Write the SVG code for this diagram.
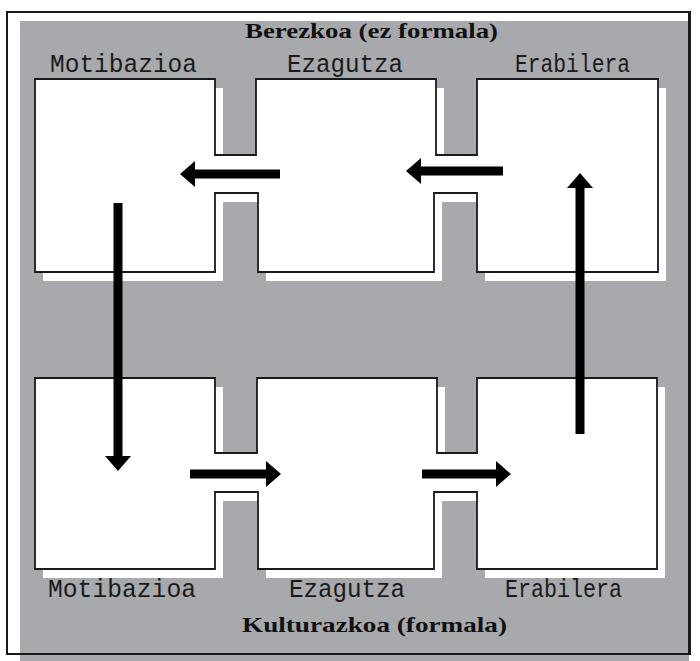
<svg xmlns="http://www.w3.org/2000/svg" width="700" height="661" viewBox="0 0 700 661">
  <style>
    .bg { fill: #a8a9ac; }
    .frame { fill: #ffffff; stroke: #1a1a1a; stroke-width: 2; }
    .shadow { fill: #ffffff; stroke: none; }
    .shape { fill: #ffffff; stroke: #1a1a1a; stroke-width: 1.8; stroke-linejoin: miter; }
    .lbl { font-family: "Liberation Mono", "DejaVu Sans Mono", monospace; font-size: 26px; fill: #1a1a1a; }
    .title { font-family: "Liberation Serif", "DejaVu Serif", serif; font-size: 22px; font-weight: bold; fill: #111111; }
    .arrow { stroke: #000000; stroke-width: 9; fill: none; stroke-linecap: butt; }
  </style>
  <defs>
    <marker id="head" viewBox="0 0 15 26" refX="0" refY="13" markerWidth="15" markerHeight="26" markerUnits="userSpaceOnUse" orient="auto">
      <path d="M0,0 L15,13 L0,26 Z" fill="#000000"/>
    </marker>
  </defs>

  <rect class="frame" x="7" y="12" width="683" height="642"/>
  <rect class="bg" x="20" y="21" width="669" height="640"/>
  <line x1="689" y1="12" x2="689" y2="654" stroke="#1a1a1a" stroke-width="2"/>
  <line x1="7" y1="654" x2="690" y2="654" stroke="#1a1a1a" stroke-width="2"/>

  <g id="berezkoa-title">
    <text class="title" x="245" y="38" textLength="253" lengthAdjust="spacingAndGlyphs">Berezkoa (ez formala)</text>
  </g>

  <g id="top-row">
    <polygon class="shadow" transform="translate(8,9)" points="35,79 215,79 215,155 256,155 256,79 436,79 436,155 477,155 477,79 658,79 658,272 477,272 477,193 434,193 434,272 258,272 258,193 215,193 215,272 35,272"/>
    <polygon class="shape" points="35,79 215,79 215,155 256,155 256,79 436,79 436,155 477,155 477,79 658,79 658,272 477,272 477,193 434,193 434,272 258,272 258,193 215,193 215,272 35,272"/>
  </g>
  <g id="top-motibazioa">
    <text class="lbl" x="50" y="72" textLength="147" lengthAdjust="spacingAndGlyphs">Motibazioa</text>
  </g>
  <g id="top-ezagutza">
    <text class="lbl" x="287" y="72" textLength="116" lengthAdjust="spacingAndGlyphs">Ezagutza</text>
  </g>
  <g id="top-erabilera">
    <text class="lbl" x="515" y="72" textLength="115" lengthAdjust="spacingAndGlyphs">Erabilera</text>
  </g>

  <g id="bottom-row">
    <polygon class="shadow" transform="translate(8,9)" points="35,378 215,378 215,453 257,453 257,378 437,378 437,453 477,453 477,378 657,378 657,569 477,569 477,492 434,492 434,569 258,569 258,492 215,492 215,569 35,569"/>
    <polygon class="shape" points="35,378 215,378 215,453 257,453 257,378 437,378 437,453 477,453 477,378 657,378 657,569 477,569 477,492 434,492 434,569 258,569 258,492 215,492 215,569 35,569"/>
  </g>
  <g id="bottom-motibazioa">
    <text class="lbl" x="48" y="597" textLength="148" lengthAdjust="spacingAndGlyphs">Motibazioa</text>
  </g>
  <g id="bottom-ezagutza">
    <text class="lbl" x="289" y="597" textLength="116" lengthAdjust="spacingAndGlyphs">Ezagutza</text>
  </g>
  <g id="bottom-erabilera">
    <text class="lbl" x="505" y="597" textLength="117" lengthAdjust="spacingAndGlyphs">Erabilera</text>
  </g>

  <g id="kulturazkoa-title">
    <text class="title" x="242" y="632" textLength="265" lengthAdjust="spacingAndGlyphs">Kulturazkoa (formala)</text>
  </g>

  <g id="connectors">
    <line class="arrow" x1="280" y1="174" x2="195" y2="174" marker-end="url(#head)"/>
    <line class="arrow" x1="503" y1="171" x2="421" y2="171" marker-end="url(#head)"/>
    <line class="arrow" x1="118" y1="203" x2="118" y2="456" marker-end="url(#head)"/>
    <line class="arrow" x1="190" y1="474" x2="266" y2="474" marker-end="url(#head)"/>
    <line class="arrow" x1="422" y1="474" x2="496" y2="474" marker-end="url(#head)"/>
    <line class="arrow" x1="580" y1="434" x2="580" y2="188" marker-end="url(#head)"/>
  </g>
</svg>
